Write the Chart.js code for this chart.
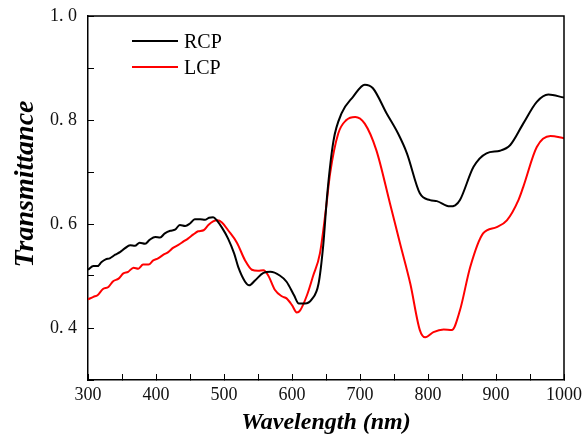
<!DOCTYPE html>
<html>
<head>
<meta charset="utf-8">
<script src="https://cdn.jsdelivr.net/npm/chart.js@4.4.1/dist/chart.umd.min.js"></script>
<style>
  html, body { margin: 0; padding: 0; background: #fff; }
  #wrap { position: relative; width: 586px; height: 438px; }
  #legend { position: absolute; left: 132px; top: 31px; font-family: "Liberation Serif", "Times New Roman", serif; font-size: 20px; line-height: 20px; color: #000; }
  #legend .item { position: relative; height: 26px; }
  #legend .swatch { position: absolute; left: 0; top: 9px; width: 46px; height: 2px; }
  #legend .label { position: absolute; left: 52px; top: 0; white-space: nowrap; }
</style>
</head>
<body>
<div id="wrap">
  <canvas id="chart" width="586" height="438"></canvas>
  <div id="legend"></div>
</div>
<script>
// données
const rcpWavelength = [300, 308, 314, 320, 326, 332, 340, 347, 354, 362, 369, 376, 384, 391, 399, 406, 413, 421, 428, 435, 443, 450, 457, 465, 472, 478, 484, 490, 497, 506, 515, 521, 531, 537, 546, 558, 568, 582, 592, 603, 610, 619, 629, 639, 646, 652, 661, 673, 690, 707, 719, 739, 756, 769, 788, 803, 813, 832, 840, 847, 867, 886, 906, 921, 940, 960, 977, 1000];
const rcpValues = [0.512, 0.519, 0.519, 0.527, 0.532, 0.534, 0.541, 0.546, 0.553, 0.559, 0.558, 0.564, 0.562, 0.570, 0.575, 0.574, 0.582, 0.587, 0.589, 0.598, 0.596, 0.601, 0.609, 0.609, 0.608, 0.612, 0.613, 0.606, 0.593, 0.572, 0.543, 0.517, 0.489, 0.482, 0.492, 0.506, 0.508, 0.501, 0.489, 0.463, 0.447, 0.447, 0.455, 0.485, 0.560, 0.660, 0.760, 0.813, 0.845, 0.868, 0.861, 0.813, 0.774, 0.736, 0.659, 0.646, 0.644, 0.634, 0.636, 0.646, 0.710, 0.736, 0.741, 0.752, 0.793, 0.835, 0.849, 0.843];

const lcpWavelength = [300, 308, 314, 322, 330, 337, 345, 352, 359, 367, 374, 381, 389, 396, 403, 411, 418, 425, 433, 440, 447, 455, 462, 470, 477, 484, 490, 497, 506, 519, 531, 541, 550, 558, 565, 575, 585, 592, 600, 607, 612, 622, 631, 641, 650, 656, 668, 680, 693, 707, 724, 744, 759, 774, 788, 796, 808, 823, 835, 847, 862, 881, 901, 916, 933, 940, 960, 980, 1000];
const lcpValues = [0.455, 0.460, 0.463, 0.475, 0.479, 0.490, 0.495, 0.505, 0.508, 0.516, 0.514, 0.522, 0.522, 0.530, 0.534, 0.541, 0.546, 0.554, 0.560, 0.566, 0.572, 0.580, 0.586, 0.588, 0.598, 0.605, 0.607, 0.603, 0.588, 0.564, 0.530, 0.512, 0.510, 0.511, 0.501, 0.473, 0.461, 0.457, 0.444, 0.430, 0.434, 0.463, 0.500, 0.543, 0.630, 0.697, 0.774, 0.800, 0.806, 0.793, 0.742, 0.640, 0.562, 0.485, 0.396, 0.382, 0.392, 0.397, 0.396, 0.434, 0.517, 0.582, 0.594, 0.607, 0.646, 0.671, 0.748, 0.769, 0.765];

const xTickLabels = [300, 400, 500, 600, 700, 800, 900, 1000];
const yTickLabels = [0.4, 0.6, 0.8, 1.0];

function toPoints(xs, ys) {
    return xs.map(function(x, i) { return { x: x, y: ys[i] }; });
}

const serif = "'Liberation Serif', 'Times New Roman', serif";

// cadre haut + droite
const frame = {
    id: 'frame',
    afterDraw(chart) {
        const a = chart.chartArea;
        const c = chart.ctx;
        c.save();
        c.strokeStyle = '#000';
        c.lineWidth = 1.5;
        c.beginPath();
        c.moveTo(a.left, a.top);
        c.lineTo(a.right, a.top);
        c.lineTo(a.right, a.bottom);
        c.stroke();
        c.restore();
    }
};

const chart = new Chart(document.getElementById('chart'), {
    type: 'line',
    data: {
        datasets: [
            { label: 'RCP', data: toPoints(rcpWavelength, rcpValues), borderColor: '#000000', borderWidth: 2, pointRadius: 0, cubicInterpolationMode: 'monotone' },
            { label: 'LCP', data: toPoints(lcpWavelength, lcpValues), borderColor: '#ff0000', borderWidth: 2, pointRadius: 0, cubicInterpolationMode: 'monotone' }
        ]
    },
    options: {
        responsive: false,
        animation: false,
        devicePixelRatio: 1,
        layout: { padding: { top: 16, right: 22, left: 0, bottom: 0 } },
        plugins: { legend: { display: false }, tooltip: { enabled: false } },
        scales: {
            x: {
                type: 'linear',
                min: 300,
                max: 1000,
                afterFit: function(s) { s.height = 58; s.paddingLeft = 0; s.paddingRight = 0; },
                border: { display: true, color: '#000', width: 1.5 },
                grid: { drawOnChartArea: false, drawTicks: true, tickLength: -6, color: '#000', tickColor: '#000' },
                ticks: {
                    stepSize: 50,
                    padding: 10,
                    maxRotation: 0,
                    autoSkip: false,
                    color: '#111',
                    font: { family: serif, size: 18 },
                    callback: function(v) { return xTickLabels.includes(v) ? String(v) : ''; }
                },
                title: {
                    display: true,
                    text: 'Wavelength (nm)',
                    color: '#000',
                    padding: { top: 0, bottom: 1 },
                    font: { family: serif, size: 24, weight: 'bold', style: 'italic' }
                }
            },
            y: {
                min: 0.3,
                max: 1.0,
                afterFit: function(s) { s.width = 88; s.paddingTop = 0; s.paddingBottom = 0; },
                border: { display: true, color: '#000', width: 1.5 },
                grid: { drawOnChartArea: false, drawTicks: true, tickLength: -6, color: '#000', tickColor: '#000' },
                ticks: {
                    stepSize: 0.1,
                    padding: 17,
                    autoSkip: false,
                    color: '#111',
                    font: { family: serif, size: 18 },
                    callback: function(v) {
                        const r = Math.round(v * 10) / 10;
                        return yTickLabels.includes(r) ? r.toFixed(1).replace('.', '. ') : '';
                    }
                },
                title: {
                    display: true,
                    text: '\u2003Transmittance',
                    color: '#000',
                    padding: { top: 9, bottom: 0 },
                    font: { family: serif, size: 28, weight: 'bold', style: 'italic' }
                }
            }
        }
    },
    plugins: [frame]
});

// légende HTML dans la zone du graphique
const legend = document.getElementById('legend');
chart.data.datasets.forEach(function(ds) {
    const item = document.createElement('div');
    item.className = 'item';
    const sw = document.createElement('div');
    sw.className = 'swatch';
    sw.style.background = ds.borderColor;
    const lb = document.createElement('div');
    lb.className = 'label';
    lb.textContent = ds.label;
    item.appendChild(sw);
    item.appendChild(lb);
    legend.appendChild(item);
});
</script>
</body>
</html>
